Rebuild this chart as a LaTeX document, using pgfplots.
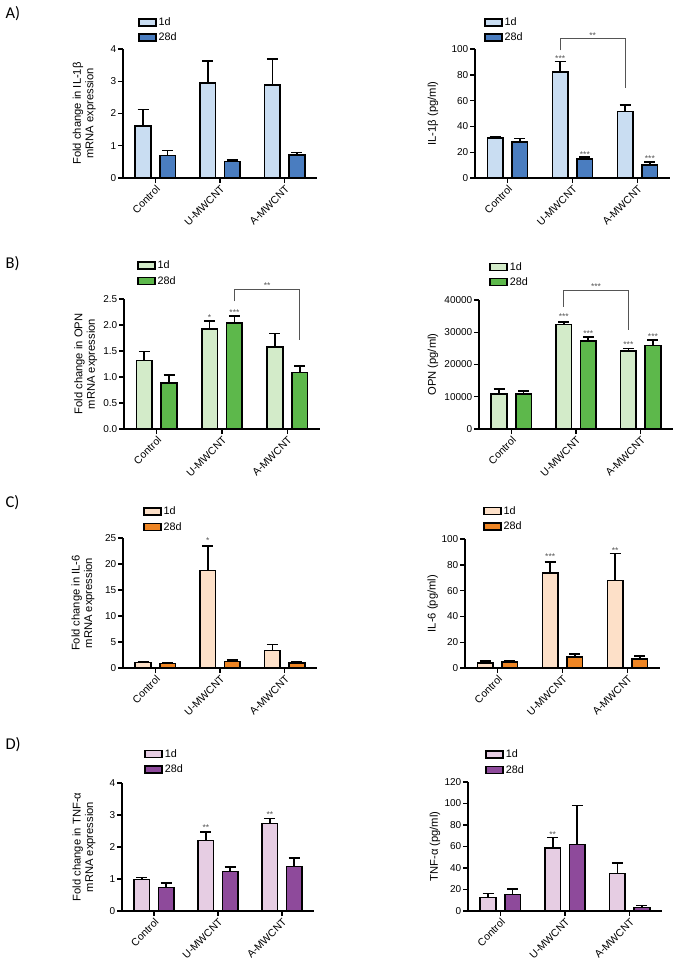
\documentclass[border=0pt]{standalone}
\usepackage{fontspec}
\setmainfont{Liberation Sans}
\newfontfamily\letterfont{Carlito}
\usepackage{pgfplots}
\usepackage{pgfplotstable}
\pgfplotsset{compat=1.18}

\definecolor{aL}{HTML}{C9DDF2}\definecolor{aD}{HTML}{4A7DC0}
\definecolor{bL}{HTML}{D3EBC9}\definecolor{bD}{HTML}{5DB84B}
\definecolor{cL}{HTML}{FDE0C8}\definecolor{cD}{HTML}{EE8524}
\definecolor{dL}{HTML}{E6CDE3}\definecolor{dD}{HTML}{8E4A9B}
\definecolor{sig}{HTML}{555555}

\pgfplotstableread{
x a ae b be
0 1.61 0.52 0.70 0.15
1 2.95 0.67 0.51 0.05
2 2.89 0.80 0.71 0.08
}\tabAL
\pgfplotstableread{
x a ae b be
0 30.8 1.3 28.0 2.6
1 82.0 8.2 14.7 1.5
2 51.4 5.4 10.3 2.0
}\tabAR
\pgfplotstableread{
x a ae b be
0 1.32 0.17 0.88 0.16
1 1.92 0.16 2.04 0.13
2 1.58 0.26 1.09 0.12
}\tabBL
\pgfplotstableread{
x a ae b be
0 10900 1570 10900 960
1 32370 830 27320 1240
2 24230 720 25880 1750
}\tabBR
\pgfplotstableread{
x a ae b be
0 1.09 0.05 0.90 0.19
1 18.78 4.72 1.28 0.26
2 3.33 1.16 0.96 0.19
}\tabCL
\pgfplotstableread{
x a ae b be
0 3.9 1.5 4.6 0.8
1 73.5 8.7 8.5 2.3
2 67.8 21.1 7.2 2.3
}\tabCR
\pgfplotstableread{
x a ae b be
0 0.98 0.07 0.73 0.14
1 2.20 0.26 1.23 0.15
2 2.73 0.16 1.39 0.27
}\tabDL
\pgfplotstableread{
x a ae b be
0 12.4 3.8 15.2 5.3
1 58.8 9.6 61.9 36.3
2 34.8 10.0 3.4 1.6
}\tabDR

\tikzset{
  st/.style={font=\fontsize{8.5}{9}\selectfont, text=sig, inner sep=0pt, yshift=-2pt},
  br/.style={draw=sig, line width=0.9pt},
}
\pgfplotsset{
  panel/.style={
    scale only axis, anchor=south west,
    xmin=-0.5, xmax=2.5, ymin=0,
    axis x line=bottom, axis y line=left,
    axis line style={-, line width=1.6pt},
    xtick={0,1,2}, xticklabels={Control,U-MWCNT,A-MWCNT},
    xticklabel style={rotate=45, anchor=north east, font=\fontsize{10.5}{12}\selectfont, inner sep=1pt},
    yticklabel style={font=\fontsize{10}{12}\selectfont, inner sep=1.5pt},
    tick align=outside, major tick length=5pt,
    tick style={black, line width=1.4pt},
    /pgf/number format/assume math mode=true,
    /pgf/number format/1000 sep={},
    scaled y ticks=false,
    clip=false,
    legend style={draw=none, fill=none, inner sep=0pt, anchor=north west,
      font=\fontsize{10.8}{12}\selectfont, row sep=2pt},
    legend cell align=left,
    ylabel style={font=\fontsize{11.2}{12.4}\selectfont, align=center, anchor=center},
  },
  leg/.style={legend image code/.code={\draw[fill=#1, draw=black, line width=1.5pt] (0pt,-3.5pt) rectangle (17pt,3.5pt);}},
  bb/.style={ybar, bar width=0.24, bar shift=0pt, draw=black, line width=1.6pt, fill=#1,
    error bars/y dir=plus, error bars/y explicit,
    error bars/error bar style={line width=1.6pt, black},
    error bars/error mark options={rotate=90, mark size=5.5pt, line width=1.6pt, black}, leg=#1},
}

\begin{document}
\begin{tikzpicture}
\useasboundingbox (0,0) rectangle (678pt,-961pt);

\node[font=\letterfont\fontsize{16.5}{18}\selectfont, anchor=base west] at (2pt,-18pt) {A)};
\node[font=\letterfont\fontsize{16.5}{18}\selectfont, anchor=base west] at (2pt,-268pt) {B)};
\node[font=\letterfont\fontsize{16.5}{18}\selectfont, anchor=base west] at (2pt,-507pt) {C)};
\node[font=\letterfont\fontsize{16.5}{18}\selectfont, anchor=base west] at (2pt,-749pt) {D)};

% ---------- A left
\begin{axis}[panel, at={(123pt,-178pt)}, width=194pt, height=129pt,
  ymax=4, ytick={0,1,2,3,4},
  ylabel={Fold change in IL-1β\\mRNA expression},
  ylabel style={at={(axis description cs:-0.20,0.5)}},
  legend style={at={(axis description cs:0.077,1.26)}}]
\addplot[bb=aL] table[x expr=\thisrow{x}-0.19,y=a,y error=ae]{\tabAL};
\addplot[bb=aD] table[x expr=\thisrow{x}+0.19,y=b,y error=be]{\tabAL};
\legend{1d,28d}
\end{axis}

% ---------- A right
\begin{axis}[panel, at={(475pt,-178pt)}, width=195pt, height=129pt,
  ymax=100, ytick={0,20,40,60,80,100},
  ylabel={IL-1β (pg/ml)},
  ylabel style={at={(axis description cs:-0.215,0.5)}},
  legend style={at={(axis description cs:0.046,1.26)}}]
\addplot[bb=aL] table[x expr=\thisrow{x}-0.19,y=a,y error=ae]{\tabAR};
\addplot[bb=aD] table[x expr=\thisrow{x}+0.19,y=b,y error=be]{\tabAR};
\legend{1d,28d}
\draw[br] (axis cs:0.81,99) -- (axis cs:0.81,108) -- (axis cs:1.81,108) -- (axis cs:1.81,69.4);
\node[st] at (axis cs:1.31,112) {**};
\node[st] at (axis cs:0.81,94.3) {***};
\node[st] at (axis cs:1.19,19.8) {***};
\node[st] at (axis cs:2.19,16.7) {***};
\end{axis}

% ---------- B left
\begin{axis}[panel, at={(124pt,-429pt)}, width=196pt, height=130pt,
  ymax=2.5, ytick={0,0.5,1,1.5,2,2.5},
  yticklabel style={/pgf/number format/fixed, /pgf/number format/fixed zerofill, /pgf/number format/precision=1},
  ylabel={Fold change in OPN\\mRNA expression},
  ylabel style={at={(axis description cs:-0.195,0.5)}},
  legend style={at={(axis description cs:0.066,1.31)}}]
\addplot[bb=bL] table[x expr=\thisrow{x}-0.19,y=a,y error=ae]{\tabBL};
\addplot[bb=bD] table[x expr=\thisrow{x}+0.19,y=b,y error=be]{\tabBL};
\legend{1d,28d}
\draw[br] (axis cs:1.19,2.455) -- (axis cs:1.19,2.68) -- (axis cs:2.19,2.68) -- (axis cs:2.19,1.72);
\node[st] at (axis cs:1.69,2.80) {**};
\node[st] at (axis cs:0.81,2.18) {*};
\node[st] at (axis cs:1.19,2.28) {***};
\end{axis}

% ---------- B right
\begin{axis}[panel, at={(479pt,-429pt)}, width=194pt, height=129pt,
  ymax=40000, ytick={0,10000,20000,30000,40000},
  ylabel={OPN (pg/ml)},
  ylabel style={at={(axis description cs:-0.237,0.5)}},
  legend style={at={(axis description cs:0.052,1.31)}}]
\addplot[bb=bL] table[x expr=\thisrow{x}-0.19,y=a,y error=ae]{\tabBR};
\addplot[bb=bD] table[x expr=\thisrow{x}+0.19,y=b,y error=be]{\tabBR};
\legend{1d,28d}
\draw[br] (axis cs:0.81,37940) -- (axis cs:0.81,43090) -- (axis cs:1.81,43090) -- (axis cs:1.81,30720);
\node[st] at (axis cs:1.31,44640) {***};
\node[st] at (axis cs:0.81,35360) {***};
\node[st] at (axis cs:1.19,30200) {***};
\node[st] at (axis cs:1.81,26800) {***};
\node[st] at (axis cs:2.19,29380) {***};
\end{axis}

% ---------- C left
\begin{axis}[panel, at={(123pt,-668pt)}, width=194pt, height=130pt,
  ymax=25, ytick={0,5,10,15,20,25},
  ylabel={Fold change in IL-6\\mRNA expression},
  ylabel style={at={(axis description cs:-0.206,0.5)}},
  legend style={at={(axis description cs:0.103,1.255)}}]
\addplot[bb=cL] table[x expr=\thisrow{x}-0.19,y=a,y error=ae]{\tabCL};
\addplot[bb=cD] table[x expr=\thisrow{x}+0.19,y=b,y error=be]{\tabCL};
\legend{1d,28d}
\node[st] at (axis cs:0.81,24.8) {*};
\end{axis}

% ---------- C right
\begin{axis}[panel, at={(465pt,-668pt)}, width=195pt, height=129pt,
  ymax=100, ytick={0,20,40,60,80,100},
  ylabel={IL-6 (pg/ml)},
  ylabel style={at={(axis description cs:-0.166,0.5)}},
  legend style={at={(axis description cs:0.092,1.27)}}]
\addplot[bb=cL] table[x expr=\thisrow{x}-0.19,y=a,y error=ae]{\tabCR};
\addplot[bb=cD] table[x expr=\thisrow{x}+0.19,y=b,y error=be]{\tabCR};
\legend{1d,28d}
\node[st] at (axis cs:0.81,87.6) {***};
\node[st] at (axis cs:1.81,92.8) {**};
\end{axis}

% ---------- D left
\begin{axis}[panel, at={(122pt,-911pt)}, width=192pt, height=128pt,
  ymax=4, ytick={0,1,2,3,4},
  ylabel={Fold change in TNF-α\\mRNA expression},
  ylabel style={at={(axis description cs:-0.198,0.5)}},
  legend style={at={(axis description cs:0.115,1.28)}}]
\addplot[bb=dL] table[x expr=\thisrow{x}-0.19,y=a,y error=ae]{\tabDL};
\addplot[bb=dD] table[x expr=\thisrow{x}+0.19,y=b,y error=be]{\tabDL};
\legend{1d,28d}
\node[st] at (axis cs:0.81,2.66) {**};
\node[st] at (axis cs:1.81,3.08) {**};
\end{axis}

% ---------- D right
\begin{axis}[panel, at={(468pt,-911pt)}, width=194pt, height=129pt,
  ymax=120, ytick={0,20,40,60,80,100,120},
  ylabel={TNF-α (pg/ml)},
  ylabel style={at={(axis description cs:-0.17,0.5)}},
  legend style={at={(axis description cs:0.088,1.265)}}]
\addplot[bb=dL] table[x expr=\thisrow{x}-0.19,y=a,y error=ae]{\tabDR};
\addplot[bb=dD] table[x expr=\thisrow{x}+0.19,y=b,y error=be]{\tabDR};
\legend{1d,28d}
\node[st] at (axis cs:0.81,73.4) {**};
\end{axis}
\end{tikzpicture}
\end{document}
